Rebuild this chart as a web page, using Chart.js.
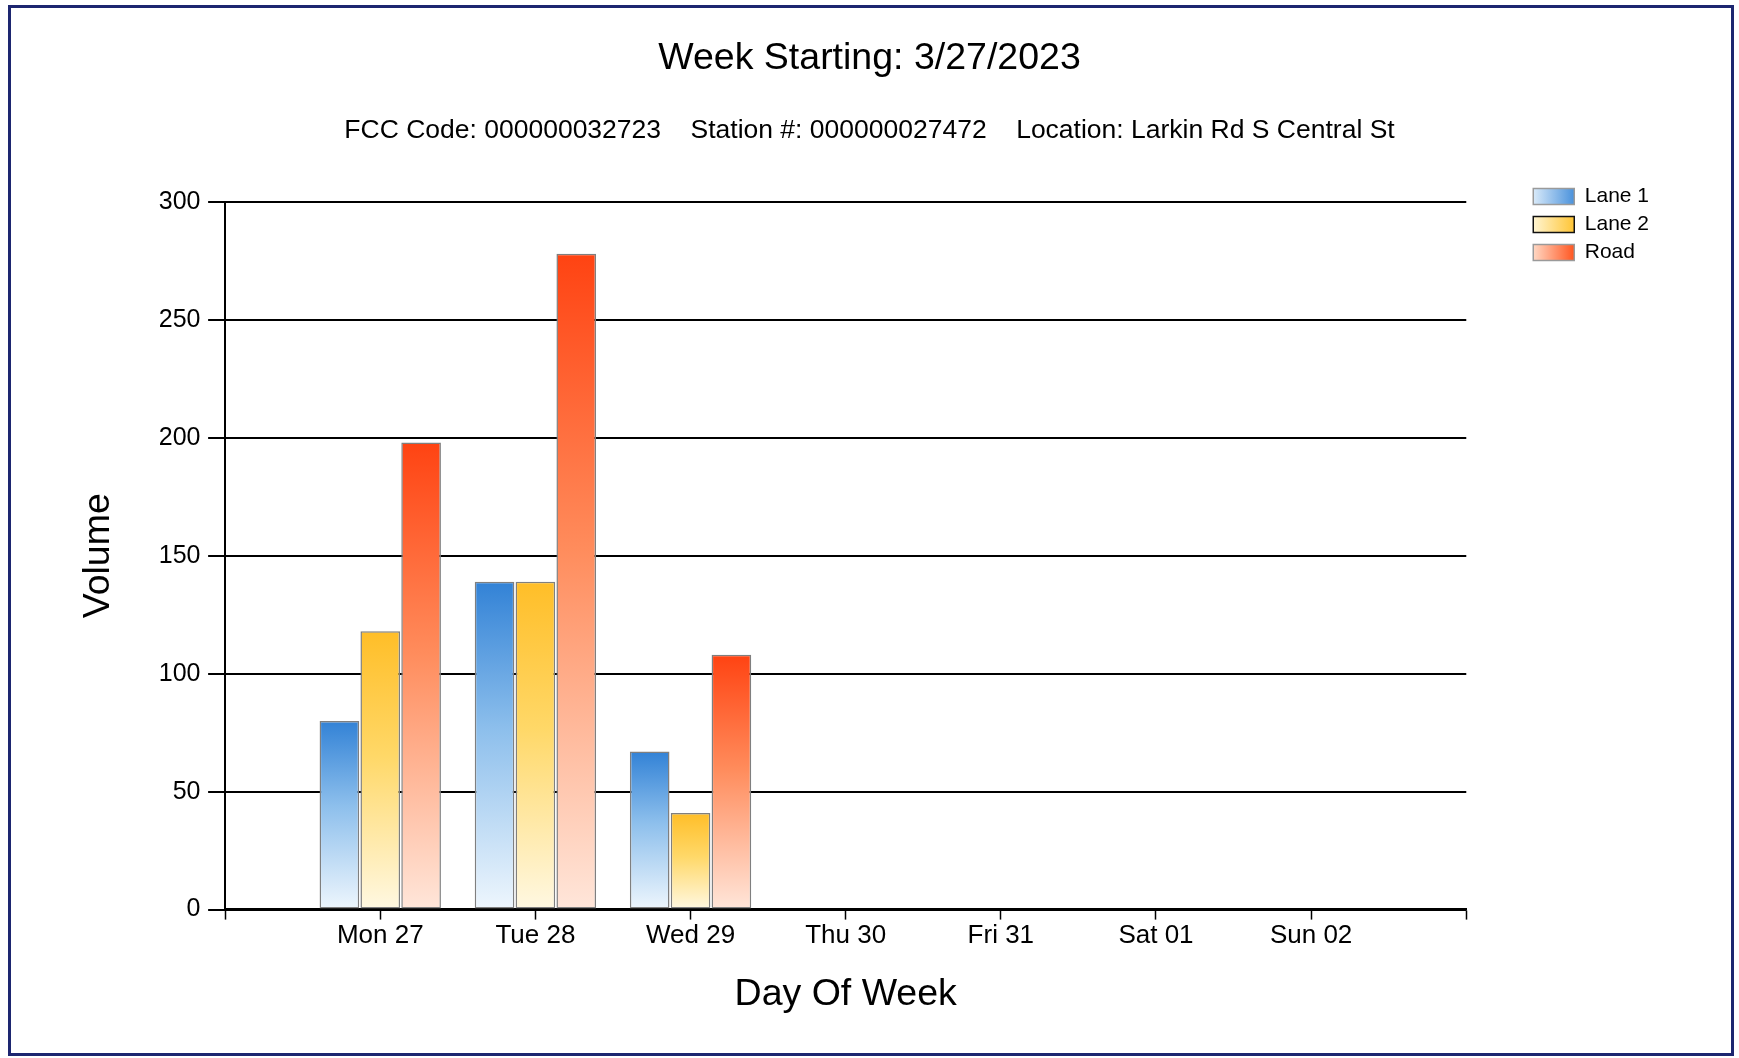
<!DOCTYPE html>
<html lang="en">
<head>
    <meta charset="UTF-8">
    <title>Week Starting: 3/27/2023</title>
    <style>
        body { margin: 0; background: #fff; }
        #wrap { position: relative; width: 1739px; height: 1058px; }
        #frame {
            position: absolute; left: 8px; top: 5px; width: 1720px; height: 1045px;
            border: 3px solid #1d2670; pointer-events: none;
        }
    </style>
</head>
<body>
<div id="wrap">
    <canvas id="volume"></canvas>
    <div id="frame"></div>
</div>

<script src="https://cdn.jsdelivr.net/npm/chart.js@4.4.1/dist/chart.umd.min.js"></script>
<script>
// Daily volumes for the week
const days = ["Mon 27", "Tue 28", "Wed 29", "Thu 30", "Fri 31", "Sat 01", "Sun 02"];
const lane1 = [80, 139, 67, null, null, null, null];
const lane2 = [118, 139, 41, null, null, null, null];
const road = [198, 278, 108, null, null, null, null];
const yTicks = [0, 50, 100, 150, 200, 250, 300];

const FONT = "'Liberation Sans', Arial, sans-serif";
const CAT_PCT = 0.79;

// top, middle, bottom shades for each series
const shades = {
    lane1: ["#3282d6", "#8dbfec", "#eef6fd"],
    lane2: ["#ffbe28", "#ffd868", "#fff8e2"],
    road: ["#ff4312", "#ff8c5c", "#ffe6da"],
};
// legend swatches run light -> dark from left to right
const swatches = [
    { from: "#d9eaf9", to: "#4a92dc", border: "#9a9a9a" },
    { from: "#fff5d2", to: "#ffc535", border: "#111111" },
    { from: "#ffd8c4", to: "#ff5620", border: "#9a9a9a" },
];

// pad an empty slot on each side so the days sit on ticks 1..7
const labels = ["", ...days, ""];
const pad = arr => [null, ...arr, null];

function barFill(stops) {
    return ctx => {
        const chart = ctx.chart;
        const y = chart.scales.y;
        if (ctx.type !== "data" || ctx.raw == null || !y || !chart.chartArea) return stops[1];
        const top = y.getPixelForValue(ctx.raw);
        const bottom = y.getPixelForValue(0);
        if (!isFinite(top) || !isFinite(bottom) || top === bottom) return stops[1];
        const g = chart.ctx.createLinearGradient(0, top, 0, bottom);
        g.addColorStop(0, stops[0]);
        g.addColorStop(0.45, stops[1]);
        g.addColorStop(1, stops[2]);
        return g;
    };
}

// titles span the whole canvas; the legend block sits up and to the right
const boxTweaks = {
    id: "boxTweaks",
    afterLayout(chart, args, opts) {
        chart.boxes.forEach(b => {
            if (b.options && typeof b.options.text === "string" && b.fullSize) {
                b.left = 0;
                b.right = chart.width;
                b.width = chart.width;
            }
        });
        const lg = chart.legend;
        if (!lg) return;
        lg.left += opts.x; lg.right += opts.x;
        lg.top += opts.y; lg.bottom += opts.y;
    },
};

const dataset = (label, values, stops) => ({
    label,
    data: pad(values),
    backgroundColor: barFill(stops),
    borderColor: "#7f7f7f",
    borderWidth: 1.5,
    borderSkipped: false,
    categoryPercentage: CAT_PCT,
    barPercentage: 0.97,
});

new Chart("volume", {
    type: "bar",
    data: {
        labels,
        datasets: [
            dataset("Lane 1", lane1, shades.lane1),
            dataset("Lane 2", lane2, shades.lane2),
            dataset("Road", road, shades.road),
        ],
    },
    options: {
        responsive: true,
        maintainAspectRatio: false,
        animation: false,
        layout: { padding: { left: 40, right: 140, top: 0, bottom: 34 } },
        plugins: {
            tooltip: { enabled: false },
            title: {
                display: true,
                text: "Week Starting: 3/27/2023",
                color: "#000",
                font: { family: FONT, size: 37.5, weight: "normal" },
                padding: { top: 35.8, bottom: 15.8 },
            },
            subtitle: {
                display: true,
                text: "FCC Code: 000000032723    Station #: 000000027472    Location: Larkin Rd S Central St",
                color: "#000",
                font: { family: FONT, size: 26.5, weight: "normal" },
                padding: { top: 18.5, bottom: 55 },
            },
            legend: {
                position: "right",
                align: "start",
                fullSize: false,
                labels: {
                    color: "#000",
                    font: { family: FONT, size: 21 },
                    boxWidth: 41,
                    boxHeight: 16,
                    padding: 7,
                    generateLabels(chart) {
                        const lg = chart.legend;
                        const x0 = lg && isFinite(lg.left) ? lg.left + 7 : null;
                        return chart.data.datasets.map((ds, i) => {
                            const sw = swatches[i];
                            let fill = sw.to;
                            if (x0 !== null) {
                                fill = chart.ctx.createLinearGradient(x0, 0, x0 + 41, 0);
                                fill.addColorStop(0, sw.from);
                                fill.addColorStop(1, sw.to);
                            }
                            return {
                                text: ds.label,
                                fillStyle: fill,
                                strokeStyle: sw.border,
                                lineWidth: 1.5,
                                fontColor: "#000",
                                hidden: false,
                                datasetIndex: i,
                            };
                        });
                    },
                },
            },
            boxTweaks: { x: 60, y: -23 },
        },
        scales: {
            x: {
                offset: false,
                grid: {
                    offset: false,
                    drawOnChartArea: false,
                    drawTicks: true,
                    tickLength: 10,
                    tickWidth: 1.5,
                    tickColor: "#000",
                },
                border: { display: true, color: "#000", width: 2.5 },
                ticks: {
                    color: "#000",
                    padding: 1,
                    maxRotation: 0,
                    autoSkip: false,
                    font: { family: FONT, size: 26 },
                },
                title: {
                    display: true,
                    text: "Day Of Week",
                    color: "#000",
                    font: { family: FONT, size: 37.5 },
                    padding: { top: 19.2, bottom: 7 },
                },
            },
            y: {
                min: yTicks[0],
                max: yTicks[yTicks.length - 1],
                afterBuildTicks: scale => { scale.ticks = yTicks.map(v => ({ value: v })); },
                grid: {
                    color: "#000",
                    lineWidth: 2,
                    tickLength: 17,
                    tickColor: "#000",
                },
                border: { display: true, color: "#000", width: 2 },
                ticks: {
                    color: "#000",
                    padding: 7.6,
                    font: { family: FONT, size: 25 },
                },
                title: {
                    display: true,
                    text: "Volume",
                    color: "#000",
                    font: { family: FONT, size: 37.5 },
                    padding: { top: 36.2, bottom: 30 },
                },
            },
        },
    },
    plugins: [boxTweaks],
});
</script>
</body>
</html>
